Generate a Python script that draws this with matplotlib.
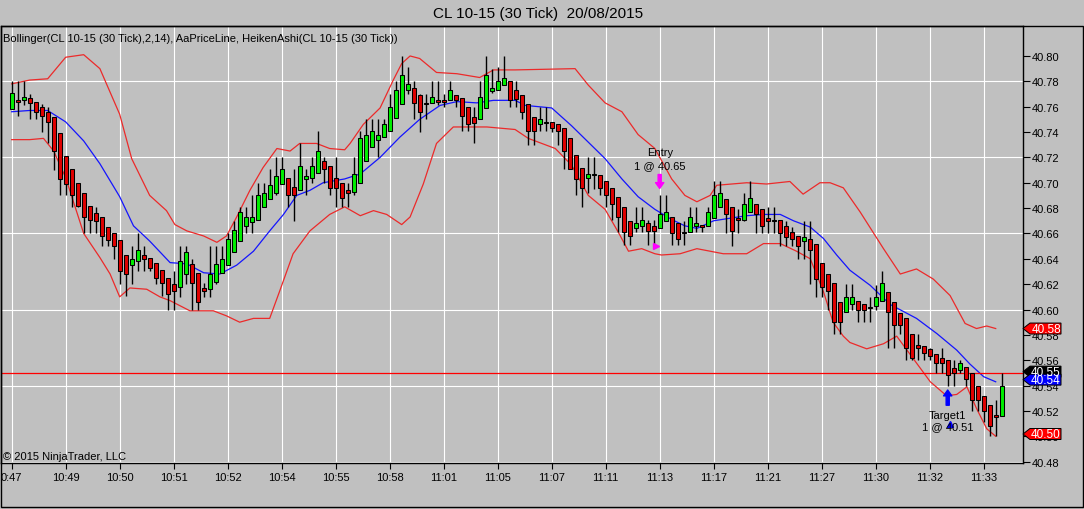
import matplotlib
matplotlib.use("Agg")
import matplotlib.pyplot as plt
from matplotlib.patches import Rectangle, Polygon
from matplotlib.transforms import IdentityTransform
import numpy as np

W, H, DPI = 1084, 510, 100
BG = "#c0c0c0"
GREEN = "#00ee00"
RED = "#e00000"
BAND_RED = "#ec2a2a"

# ---------------- data (Heiken Ashi candles, one per 30-tick bar) ----------------
ha_open = [40.758, 40.765, 40.765, 40.767, 40.764, 40.760, 40.756, 40.752, 40.739, 40.721,
           40.711, 40.700, 40.692, 40.682, 40.676, 40.673, 40.665, 40.660, 40.655, 40.643,
           40.635, 40.638, 40.643, 40.641, 40.637, 40.631, 40.625, 40.620, 40.618, 40.628,
           40.636, 40.629, 40.617, 40.616, 40.622, 40.629, 40.635, 40.645, 40.654, 40.666,
           40.669, 40.671, 40.681, 40.687, 40.692, 40.699, 40.704, 40.697, 40.694, 40.703,
           40.704, 40.708, 40.717, 40.713, 40.704, 40.700, 40.694, 40.693, 40.700, 40.717,
           40.728, 40.734, 40.736, 40.741, 40.751, 40.762, 40.773, 40.775, 40.769, 40.763,
           40.763, 40.765, 40.765, 40.765, 40.769, 40.767, 40.760, 40.752, 40.750, 40.759,
           40.772, 40.773, 40.777, 40.780, 40.773, 40.769, 40.762, 40.752, 40.746, 40.748,
           40.748, 40.746, 40.743, 40.735, 40.722, 40.712, 40.704, 40.706, 40.706, 40.701,
           40.696, 40.689, 40.681, 40.670, 40.664, 40.666, 40.668, 40.666, 40.664, 40.670,
           40.673, 40.668, 40.661, 40.661, 40.666, 40.667, 40.666, 40.672, 40.681, 40.687,
           40.681, 40.672, 40.671, 40.677, 40.683, 40.679, 40.672, 40.671, 40.671, 40.666,
           40.661, 40.658, 40.654, 40.656, 40.652, 40.637, 40.628, 40.621, 40.606, 40.598,
           40.604, 40.607, 40.604, 40.602, 40.603, 40.607, 40.614, 40.606, 40.597, 40.593,
           40.581, 40.572, 40.571, 40.569, 40.565, 40.562, 40.560, 40.554, 40.552, 40.555,
           40.550, 40.540, 40.532, 40.525, 40.517, 40.516]
ha_close = [40.771, 40.764, 40.768, 40.763, 40.756, 40.753, 40.748, 40.725, 40.703, 40.699,
            40.690, 40.682, 40.673, 40.671, 40.670, 40.658, 40.655, 40.650, 40.630, 40.628,
            40.640, 40.647, 40.640, 40.633, 40.625, 40.621, 40.612, 40.615, 40.638, 40.645,
            40.621, 40.606, 40.615, 40.628, 40.636, 40.640, 40.656, 40.663, 40.677, 40.673,
            40.673, 40.690, 40.692, 40.698, 40.705, 40.711, 40.690, 40.690, 40.713, 40.705,
            40.713, 40.725, 40.711, 40.696, 40.696, 40.688, 40.692, 40.707, 40.735, 40.738,
            40.741, 40.738, 40.746, 40.760, 40.773, 40.785, 40.778, 40.763, 40.756, 40.762,
            40.768, 40.764, 40.764, 40.773, 40.765, 40.753, 40.746, 40.747, 40.768, 40.785,
            40.775, 40.780, 40.783, 40.765, 40.766, 40.756, 40.741, 40.741, 40.750, 40.747,
            40.743, 40.741, 40.725, 40.711, 40.703, 40.696, 40.707, 40.707, 40.696, 40.690,
            40.683, 40.673, 40.661, 40.658, 40.668, 40.671, 40.662, 40.662, 40.675, 40.677,
            40.660, 40.656, 40.660, 40.673, 40.668, 40.665, 40.677, 40.690, 40.692, 40.675,
            40.662, 40.671, 40.683, 40.688, 40.675, 40.666, 40.670, 40.670, 40.660, 40.657,
            40.656, 40.650, 40.657, 40.647, 40.624, 40.618, 40.615, 40.590, 40.590, 40.610,
            40.610, 40.600, 40.600, 40.601, 40.610, 40.621, 40.598, 40.588, 40.588, 40.570,
            40.562, 40.570, 40.566, 40.563, 40.558, 40.558, 40.548, 40.550, 40.558, 40.545,
            40.529, 40.529, 40.520, 40.508, 40.515, 40.540]
ha_high = [40.780, 40.780, 40.780, 40.770, 40.764, 40.762, 40.760, 40.752, 40.739, 40.721,
           40.711, 40.700, 40.692, 40.682, 40.681, 40.673, 40.665, 40.660, 40.655, 40.643,
           40.650, 40.660, 40.650, 40.641, 40.637, 40.631, 40.625, 40.630, 40.650, 40.650,
           40.640, 40.629, 40.621, 40.650, 40.650, 40.650, 40.660, 40.670, 40.681, 40.681,
           40.690, 40.700, 40.700, 40.711, 40.720, 40.720, 40.704, 40.711, 40.731, 40.711,
           40.720, 40.741, 40.720, 40.713, 40.720, 40.700, 40.700, 40.720, 40.741, 40.750,
           40.750, 40.750, 40.750, 40.770, 40.780, 40.800, 40.791, 40.780, 40.770, 40.770,
           40.780, 40.780, 40.770, 40.780, 40.769, 40.767, 40.760, 40.760, 40.780, 40.800,
           40.790, 40.791, 40.800, 40.780, 40.780, 40.769, 40.762, 40.752, 40.760, 40.760,
           40.748, 40.746, 40.743, 40.735, 40.722, 40.712, 40.720, 40.720, 40.706, 40.701,
           40.696, 40.689, 40.681, 40.670, 40.681, 40.681, 40.671, 40.671, 40.690, 40.690,
           40.673, 40.668, 40.670, 40.681, 40.681, 40.667, 40.681, 40.701, 40.701, 40.687,
           40.681, 40.679, 40.692, 40.701, 40.683, 40.679, 40.681, 40.681, 40.671, 40.670,
           40.665, 40.658, 40.670, 40.670, 40.652, 40.637, 40.628, 40.621, 40.606, 40.620,
           40.620, 40.607, 40.604, 40.610, 40.619, 40.630, 40.614, 40.606, 40.597, 40.593,
           40.581, 40.581, 40.571, 40.570, 40.565, 40.570, 40.560, 40.560, 40.560, 40.555,
           40.550, 40.540, 40.532, 40.525, 40.529, 40.550]
ha_low = [40.758, 40.753, 40.761, 40.750, 40.750, 40.740, 40.731, 40.710, 40.690, 40.690,
          40.681, 40.681, 40.660, 40.660, 40.660, 40.650, 40.650, 40.640, 40.620, 40.611,
          40.620, 40.630, 40.630, 40.630, 40.620, 40.611, 40.600, 40.600, 40.610, 40.620,
          40.600, 40.600, 40.610, 40.610, 40.620, 40.629, 40.635, 40.645, 40.654, 40.660,
          40.660, 40.671, 40.681, 40.687, 40.690, 40.699, 40.681, 40.670, 40.694, 40.690,
          40.700, 40.708, 40.700, 40.690, 40.681, 40.681, 40.681, 40.690, 40.700, 40.717,
          40.728, 40.720, 40.736, 40.741, 40.751, 40.762, 40.770, 40.750, 40.740, 40.750,
          40.763, 40.761, 40.760, 40.765, 40.760, 40.741, 40.741, 40.731, 40.750, 40.759,
          40.771, 40.773, 40.777, 40.760, 40.760, 40.750, 40.730, 40.730, 40.741, 40.741,
          40.740, 40.730, 40.711, 40.711, 40.690, 40.681, 40.692, 40.695, 40.690, 40.681,
          40.671, 40.661, 40.651, 40.651, 40.661, 40.661, 40.651, 40.651, 40.664, 40.670,
          40.651, 40.651, 40.651, 40.661, 40.661, 40.661, 40.666, 40.672, 40.681, 40.660,
          40.650, 40.660, 40.670, 40.677, 40.660, 40.660, 40.660, 40.660, 40.650, 40.650,
          40.650, 40.640, 40.640, 40.620, 40.610, 40.610, 40.600, 40.581, 40.581, 40.598,
          40.600, 40.590, 40.590, 40.590, 40.600, 40.607, 40.570, 40.570, 40.581, 40.560,
          40.560, 40.560, 40.560, 40.560, 40.550, 40.550, 40.540, 40.540, 40.550, 40.540,
          40.520, 40.520, 40.511, 40.500, 40.500, 40.516]

# ---------------- Bollinger(2,14) bands, read at bar positions ----------------
upper_idx = [0, 3, 6, 9, 12, 14.7, 18, 20, 23, 25.8, 27.2, 29.2, 32, 34.2, 35.8, 37.5, 39.7,
             41.9, 44.2, 46.4, 48, 50.8, 53, 55.5, 56.4, 58.6, 61.4, 63.6, 65, 66.4, 68, 70.8,
             74.2, 78, 80.3, 83.9, 93.9, 96.1, 98.9, 101.7, 104.4, 107.2, 110, 112.2, 114.2,
             116.4, 117.5, 122.5, 125.8, 129.7, 131.9, 134.7, 136.4, 138.6, 141.4, 145.3,
             148.1, 150.8, 153.6, 156.4, 158.9, 160.8, 162.5, 164]
upper_val = [40.778, 40.781, 40.782, 40.799, 40.801, 40.790, 40.754, 40.719, 40.690, 40.678,
             40.667, 40.662, 40.658, 40.653, 40.658, 40.673, 40.694, 40.712, 40.727, 40.725,
             40.731, 40.731, 40.727, 40.726, 40.731, 40.746, 40.759, 40.781, 40.794, 40.800,
             40.798, 40.787, 40.786, 40.783, 40.789, 40.789, 40.790, 40.777, 40.763, 40.756,
             40.738, 40.727, 40.703, 40.690, 40.685, 40.690, 40.698, 40.700, 40.699, 40.701,
             40.691, 40.700, 40.700, 40.696, 40.677, 40.648, 40.628, 40.632, 40.624, 40.611,
             40.589, 40.585, 40.587, 40.585]
middle_idx = [0, 3, 6, 9, 12, 14.7, 18, 20.3, 23, 26.4, 29.2, 32, 34.7, 37.5, 40.3, 43, 45.3,
              47.5, 49.7, 51.9, 55.5, 58.1, 61.4, 64.7, 68, 71.4, 74.2, 77.5, 80.3, 83.9, 85.6,
              90, 93.3, 96.1, 98.9, 101.7, 104.4, 107.2, 110, 112.2, 114.2, 117, 119.7, 122.5,
              125.3, 128.1, 130.3, 133.1, 135.3, 137.5, 139.7, 143.1, 146.4, 150.8, 154.2,
              157.5, 159.7, 162, 164]
middle_val = [40.756, 40.757, 40.757, 40.748, 40.733, 40.715, 40.689, 40.666, 40.654, 40.637,
              40.636, 40.629, 40.628, 40.635, 40.646, 40.662, 40.675, 40.690, 40.694, 40.700,
              40.703, 40.707, 40.720, 40.736, 40.750, 40.761, 40.764, 40.763, 40.765, 40.765,
              40.761, 40.759, 40.745, 40.732, 40.719, 40.703, 40.689, 40.679, 40.671, 40.666,
              40.664, 40.670, 40.672, 40.674, 40.675, 40.675, 40.670, 40.665, 40.656, 40.643,
              40.631, 40.619, 40.604, 40.593, 40.581, 40.568, 40.557, 40.547, 40.543]
lower_idx = [0, 3, 5.3, 7, 9, 12, 14.7, 16.4, 18, 19.7, 22.5, 24.7, 26.4, 29.7, 33.6, 35.8, 38,
             40.3, 43, 44.7, 46.9, 49.7, 53, 55.5, 58.1, 60.3, 62.5, 65, 66.4, 68.6, 70.8, 73.6,
             75.8, 79.2, 83.9, 86.1, 90.6, 93.3, 96.1, 98.9, 101.1, 102.8, 105, 107.2, 108.3,
             111.4, 114.2, 118.6, 122.5, 125.3, 128.1, 130.8, 133.1, 135.3, 136.9, 138.6,
             139.7, 142.5, 145.3, 147.5, 150.3, 153.1, 155.8, 157.5, 159.2, 160.8, 162.5, 164]
lower_val = [40.734, 40.734, 40.735, 40.725, 40.704, 40.660, 40.641, 40.628, 40.610, 40.617,
             40.616, 40.610, 40.607, 40.599, 40.599, 40.595, 40.590, 40.593, 40.593, 40.615,
             40.644, 40.662, 40.675, 40.681, 40.674, 40.678, 40.675, 40.667, 40.673, 40.699,
             40.731, 40.744, 40.744, 40.744, 40.742, 40.735, 40.727, 40.714, 40.690, 40.679,
             40.661, 40.646, 40.648, 40.644, 40.643, 40.644, 40.648, 40.644, 40.644, 40.652,
             40.652, 40.646, 40.640, 40.614, 40.590, 40.579, 40.574, 40.569, 40.573, 40.579,
             40.561, 40.543, 40.532, 40.533, 40.539, 40.522, 40.506, 40.500]

time_idx = [0, 9, 18, 27, 36, 45, 54, 63, 72, 81, 90, 99, 108, 117, 126, 135, 144, 153, 162]
time_labels = ["0:47", "10:49", "10:50", "10:51", "10:52", "10:54", "10:55", "10:58", "11:01",
               "11:05", "11:07", "11:11", "11:13", "11:17", "11:21", "11:27", "11:30", "11:32",
               "11:33"]
y_tick_vals = [40.48, 40.50, 40.52, 40.54, 40.56, 40.58, 40.60, 40.62, 40.64, 40.66, 40.68,
               40.70, 40.72, 40.74, 40.76, 40.78, 40.80]
y_grid_vals = [40.48, 40.54, 40.60, 40.66, 40.72, 40.78]

price_line = 40.55
entry_idx, entry_price = 108, 40.65
target_idx, target_price = 156, 40.51
tag_vals = [40.585, 40.551, 40.5447, 40.5018]
tag_texts = ["40.58", "40.55", "40.54", "40.50"]
tag_colors = ["#ff0000", "#000000", "#0000ff", "#ff0000"]

title = "CL 10-15 (30 Tick)  20/08/2015"
legend_text = "Bollinger(CL 10-15 (30 Tick),2,14), AaPriceLine, HeikenAshi(CL 10-15 (30 Tick))"
copyright_text = "\u00a9 2015 NinjaTrader, LLC"

# ---------------- figure ----------------
plt.rcParams["font.family"] = ["Liberation Sans", "DejaVu Sans"]
fig = plt.figure(figsize=(W / DPI, H / DPI), dpi=DPI, facecolor=BG)
L, R, T, B = 1.0, 1023.0, 27.3, 464.3
ax = fig.add_axes([L / W, 1 - B / H, (R - L) / W, (B - T) / H])
ax.set_facecolor(BG)
ax.set_xlim(-1.78, 168.55)
ax.set_ylim(40.4787, 40.8234)

# grid
for gv in y_grid_vals:
    ax.axhline(gv, color="white", lw=0.8, zorder=0.5)
for xv in time_idx:
    ax.axvline(xv, color="white", lw=0.8, zorder=0.5)

# bands
ax.plot(upper_idx, upper_val, color=BAND_RED, lw=0.9, zorder=1)
ax.plot(lower_idx, lower_val, color=BAND_RED, lw=0.9, zorder=1)
ax.plot(middle_idx, middle_val, color="#1414ff", lw=0.9, zorder=1)

# price line
ax.axhline(price_line, color="#ff0000", lw=0.9, zorder=1.2)

# candles
o = np.array(ha_open); c = np.array(ha_close)
hi = np.array(ha_high); lo = np.array(ha_low)
idx = np.arange(len(o))
ax.vlines(idx, lo, hi, color="black", lw=1.0, zorder=2)
bottoms = np.minimum(o, c)
heights = np.maximum(np.abs(c - o), 0.0003)
colors = [GREEN if cc > oo else RED for oo, cc in zip(o, c)]
ax.bar(idx, heights, bottom=bottoms, width=0.68, color=colors, edgecolor="black",
       linewidth=0.75, zorder=3)

# ticks / axes
ax.yaxis.tick_right()
ax.set_yticks(y_tick_vals)
ax.set_yticklabels([f"{v:.2f}" for v in y_tick_vals])
ax.set_xticks(time_idx)
ax.set_xticklabels(time_labels)
ax.tick_params(axis="y", direction="out", length=5, width=0.8, pad=1.5, labelsize=8,
               colors="black")
ax.tick_params(axis="x", direction="out", length=4, width=0.8, pad=2, labelsize=8)
for s in ax.spines.values():
    s.set_color("black"); s.set_linewidth(1.0)

# entry annotation
ax.annotate("", xy=(entry_idx, 40.6955), xytext=(entry_idx, 40.7065),
            arrowprops=dict(arrowstyle="simple,head_length=0.6,head_width=0.85,tail_width=0.32",
                            color="#ff00ff", mutation_scale=7, shrinkA=0, shrinkB=0), zorder=6)
ax.text(entry_idx, 40.724, "Entry", ha="center", va="center", fontsize=8, zorder=6)
ax.text(entry_idx, 40.7142, "1 @ 40.65", ha="center", va="center", fontsize=8, zorder=6)
ax.plot([entry_idx - 0.55], [entry_price], marker=">", color="#ff00ff", markersize=4.5,
        zorder=6, linestyle="none")

# target annotation
ax.plot([target_idx + 0.4], [target_price], marker="^", color="#0000ff", markersize=4.5,
        zorder=6, linestyle="none")
ax.annotate("", xy=(target_idx, 40.5365), xytext=(target_idx, 40.5245),
            arrowprops=dict(arrowstyle="simple,head_length=0.6,head_width=0.85,tail_width=0.32",
                            color="#0000ff", mutation_scale=7, shrinkA=0, shrinkB=0), zorder=6)
ax.text(target_idx, 40.5168, "Target1", ha="center", va="center", fontsize=8, zorder=7)
ax.text(target_idx, 40.5077, "1 @ 40.51", ha="center", va="center", fontsize=8, zorder=7)

# header / footer texts
fig.text(538 / W, 1 - 14 / H, title, ha="center", va="center", fontsize=11)
fig.text(3 / W, 1 - 39.5 / H, legend_text, ha="left", va="center", fontsize=8)
fig.text(3 / W, 1 - 457 / H, copyright_text, ha="left", va="center", fontsize=8)

# outer frame
fig.add_artist(Rectangle((0.5 / W, 1 - 508 / H), 1082.5 / W, (508 - 27.3) / H,
                         transform=fig.transFigure, fill=False, ec="black", lw=1.0))

# right-axis value tags (drawn over the tick labels, as in the reference)
x_edge = ax.transAxes.transform((1, 0))[0]
for val, txt, fc in zip(tag_vals, tag_texts, tag_colors):
    ypix = ax.transData.transform((0, val))[1]
    h = 5.5
    pts = [(x_edge, ypix), (x_edge + 7, ypix + h), (x_edge + 38, ypix + h),
           (x_edge + 38, ypix - h), (x_edge + 7, ypix - h)]
    fig.add_artist(Polygon(pts, closed=True, transform=IdentityTransform(), fc=fc,
                           ec="black", lw=0.7, zorder=10))
    fig.text(x_edge + 23, ypix, txt, transform=IdentityTransform(), ha="center",
             va="center", color="white", fontsize=8.5, zorder=11)

fig.savefig("out.png", dpi=DPI, facecolor=BG)
